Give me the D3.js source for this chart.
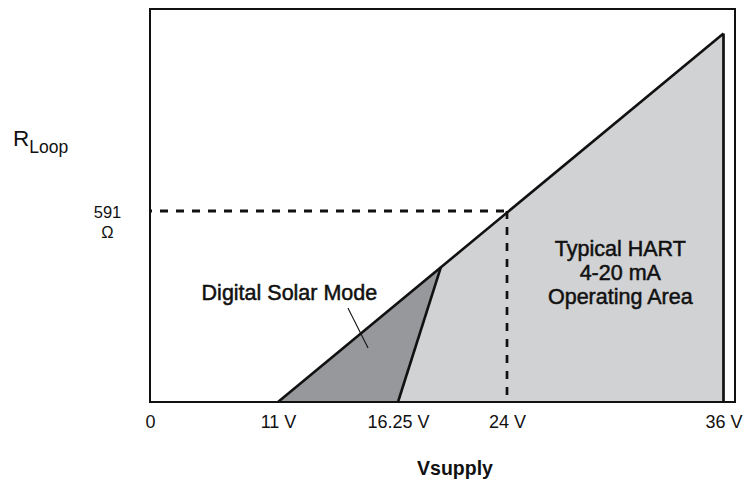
<!DOCTYPE html>
<html><head><meta charset="utf-8">
<script src="https://cdn.jsdelivr.net/npm/d3@7"></script>
<style>
html,body{margin:0;padding:0;background:#fff;}
svg{display:block;font-family:"Liberation Sans",Arial,Helvetica,sans-serif;}
</style>
</head><body>
<svg id="c" width="744" height="485"></svg>
<script>
// ---- data ----
const xTickValues = [0, 11, 16.25, 24, 36];
const xTickLabels = ["0", "11 V", "16.25 V", "24 V", "36 V"];
const yMarkValue = 591;          // ohms
const yMarkLabel = ["591", "Ω"];
const vMarkValue = 24;           // volts
const loopLine  = [[11, 0], [36, 1140]];                 // [V, R]
const hartArea  = [[11, 0], [36, 1140], [36, 0]];
const solarArea = [[11, 0], [19.3, 417], [16.25, 0]];
const solarEdge = [[16.25, 0], [19.3, 417]];
const solarPointer = [[14.06, 291], [14.94, 167]];
const solarLabel = {v: 11.5, r: 316, text: "Digital Solar Mode"};
const hartLabel  = {v: 30.28, r: 452, lines: ["Typical HART", "4-20 mA", "Operating Area"]};
const xTitle = "Vsupply";

// ---- layout ----
const svg = d3.select("#c");
const L = 150, T = 9, R = 735, B = 402;
const x = d3.scaleLinear().domain(xTickValues).range([L, 278, 398, 507, 723.5]);
const y = d3.scaleLinear().domain([0, 1216]).range([B, T]);
const ink = "#111";

const line = d3.line().x(d => x(d[0])).y(d => y(d[1]));

// areas
svg.append("path").attr("d", line(hartArea) + "Z").attr("fill", "#d1d2d4");
svg.append("path").attr("d", line(solarArea) + "Z").attr("fill", "#97989b");

// solar right edge
svg.append("path").attr("d", line(solarEdge)).attr("fill", "none")
  .attr("stroke", ink).attr("stroke-width", 2.6);

// main loop line
svg.append("path").attr("d", line(loopLine)).attr("fill", "none")
  .attr("stroke", ink).attr("stroke-width", 2.6).attr("stroke-linejoin", "miter");

// vertical at 36 V
svg.append("line")
  .attr("x1", x(36)).attr("x2", x(36))
  .attr("y1", y(loopLine[1][1])).attr("y2", y(0))
  .attr("stroke", ink).attr("stroke-width", 2.7);

// dashed guides
svg.append("line")
  .attr("x1", x(0)).attr("x2", x(vMarkValue))
  .attr("y1", y(yMarkValue)).attr("y2", y(yMarkValue))
  .attr("stroke", ink).attr("stroke-width", 2.8)
  .attr("stroke-dasharray", "8,8").attr("stroke-dashoffset", 6);
svg.append("line")
  .attr("x1", x(vMarkValue)).attr("x2", x(vMarkValue))
  .attr("y1", y(yMarkValue)).attr("y2", y(0))
  .attr("stroke", ink).attr("stroke-width", 2.7).attr("stroke-dasharray", "8,8");

// pointer
svg.append("path").attr("d", line(solarPointer))
  .attr("stroke", ink).attr("stroke-width", 1.1).attr("fill", "none");

// frame
svg.append("rect").attr("x", L).attr("y", T).attr("width", R - L).attr("height", B - T)
  .attr("fill", "none").attr("stroke", ink).attr("stroke-width", 2);

// x axis labels
const xAxis = d3.axisBottom(x).tickValues(xTickValues).tickSize(0).tickPadding(13)
  .tickFormat((d, i) => xTickLabels[i]);
const gx = svg.append("g").attr("transform", `translate(0,${B})`).call(xAxis);
gx.select(".domain").remove();
gx.selectAll("text").attr("font-size", 18).attr("fill", ink)
  .attr("font-family", "'Liberation Sans',Arial,sans-serif");

// x title
svg.append("text").attr("x", 455).attr("y", 475).attr("text-anchor", "middle")
  .attr("font-size", 19.5).attr("font-weight", "bold").attr("fill", ink).text(xTitle);

// y title R_Loop
const yt = svg.append("text").attr("x", 13).attr("y", 146).attr("fill", ink);
yt.append("tspan").attr("font-size", 22.5).text("R");
yt.append("tspan").attr("font-size", 17.5).attr("dy", 7).text("Loop");

// y mark label
const ym = svg.append("text").attr("text-anchor", "middle").attr("font-size", 16.5).attr("fill", ink);
yMarkLabel.forEach((s, i) => {
  ym.append("tspan").attr("x", 107.5).attr("y", y(yMarkValue) + 7 + i * 20).text(s);
});

// annotations (medium weight look)
svg.append("text").attr("x", x(solarLabel.v)).attr("y", y(solarLabel.r))
  .attr("text-anchor", "middle").attr("font-size", 21.5)
  .attr("fill", ink).attr("stroke", ink).attr("stroke-width", 0.5)
  .text(solarLabel.text);

const ht = svg.append("text").attr("text-anchor", "middle").attr("font-size", 21.5)
  .attr("fill", ink).attr("stroke", ink).attr("stroke-width", 0.5);
hartLabel.lines.forEach((s, i) => {
  ht.append("tspan").attr("x", x(hartLabel.v)).attr("y", y(hartLabel.r) + i * 24).text(s);
});
</script>
</body></html>
